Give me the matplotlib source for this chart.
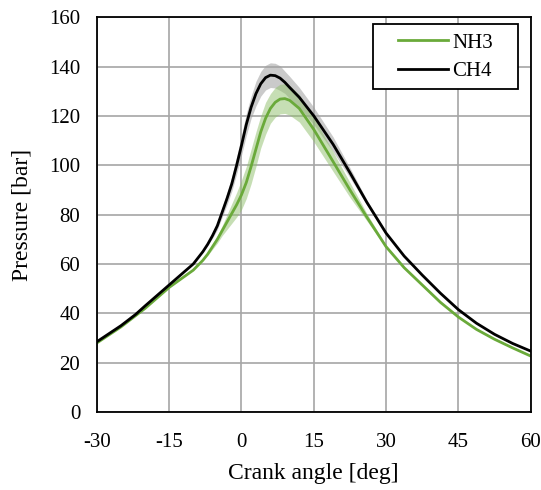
import numpy as np
import matplotlib.pyplot as plt
from matplotlib.patches import Rectangle

# crank angle [deg]
angle = [-30, -25, -22, -20, -15, -10, -8, -7, -6, -5, -4, -3, -2, -1, 0, 1, 2, 3, 4, 5, 6, 7, 8, 9, 10,
         12, 15, 19, 22.5, 26, 30, 33.75, 37.5, 41.25, 45, 48.75, 52.5, 56.25, 60]
p_ch4 = [28.5, 35, 39.5, 43, 51.5, 60, 65, 68, 71.5, 75.5, 81, 86.5, 92.5, 100, 108, 116.5, 123.5, 129, 133, 135.5, 136.5, 136.3, 135.3, 133.6, 131.5,
         127.5, 120, 108.5, 97, 85, 72.5, 63.2, 55.5, 48.2, 41.5, 36, 31.5, 27.8, 24.7]
p_nh3 = [28, 34.5, 39, 42, 50.5, 57.5, 61.5, 64, 67, 70, 73.5, 77, 80.5, 84, 88, 93, 99.5, 106.5, 113.5, 119, 123, 125.5, 126.8, 127, 126.3,
         123, 114.5, 101.5, 90, 79, 67, 58.5, 51.5, 44.5, 38.5, 33.5, 29.5, 26, 22.7]
# cycle-to-cycle spread (half width)
sd_ch4 = [0, 0, 0, 0, 0, 0, 0, 0.5, 1, 1.5, 2, 2.5, 3, 3.5, 4, 4.5, 4.5, 5, 5, 5, 5, 5, 5, 4.5, 4.5,
          4, 3.5, 3, 2, 1, 0.5, 0, 0, 0, 0, 0, 0, 0, 0]
sd_nh3 = [0, 0, 0, 0, 0, 0, 0, 0.5, 1, 1.5, 2, 3, 4, 5, 6, 6.5, 7, 7, 6.5, 6.5, 6, 6, 6, 6, 6,
          5.5, 5, 4, 3, 1.5, 0.5, 0, 0, 0, 0, 0, 0, 0, 0]

plt.rcParams['font.family'] = ['Liberation Serif', 'DejaVu Serif']
plt.rcParams['axes.unicode_minus'] = False

fig = plt.figure(figsize=(5.41, 4.90), dpi=100)
ax = fig.add_axes([0.179, 0.159, 0.802, 0.806])

x = np.array(angle)
ch4 = np.array(p_ch4)
nh3 = np.array(p_nh3)
ax.fill_between(x, ch4 - np.array(sd_ch4), ch4 + np.array(sd_ch4), color='#a0a0a0', alpha=0.55, lw=0)
ax.fill_between(x, nh3 - np.array(sd_nh3), nh3 + np.array(sd_nh3), color='#8fbf6a', alpha=0.5, lw=0)
ax.plot(x, nh3, color='#6aaa3a', lw=2, label='NH3')
ax.plot(x, ch4, color='black', lw=2, label='CH4')

ax.set_xlim(-30, 60)
ax.set_ylim(0, 160)
ax.set_xticks(np.arange(-30, 61, 15))
ax.set_yticks(np.arange(0, 161, 20))
ax.grid(color='#a6a6a6', lw=1.2)
ax.set_axisbelow(True)
ax.tick_params(length=0, labelsize=15)
ax.tick_params(axis='y', pad=12)
ax.tick_params(axis='x', pad=15)
for s in ax.spines.values():
    s.set_color('black')
    s.set_linewidth(1.3)

ax.set_xlabel('Crank angle [deg]', fontsize=17, labelpad=8)
ax.set_ylabel('Pressure [bar]', fontsize=17, labelpad=12)

# legend box drawn separately so the padding matches
ax.add_patch(Rectangle((0.636, 0.818), 0.334, 0.164, transform=ax.transAxes,
                       facecolor='white', edgecolor='black', lw=1.3, zorder=4.5))
leg = ax.legend(loc='upper left', bbox_to_anchor=(0.694, 0.960), fontsize=15,
                frameon=False, borderaxespad=0, borderpad=0,
                handlelength=2.4, handletextpad=0.2, labelspacing=0.45)

fig.savefig('out.png', dpi=100)
